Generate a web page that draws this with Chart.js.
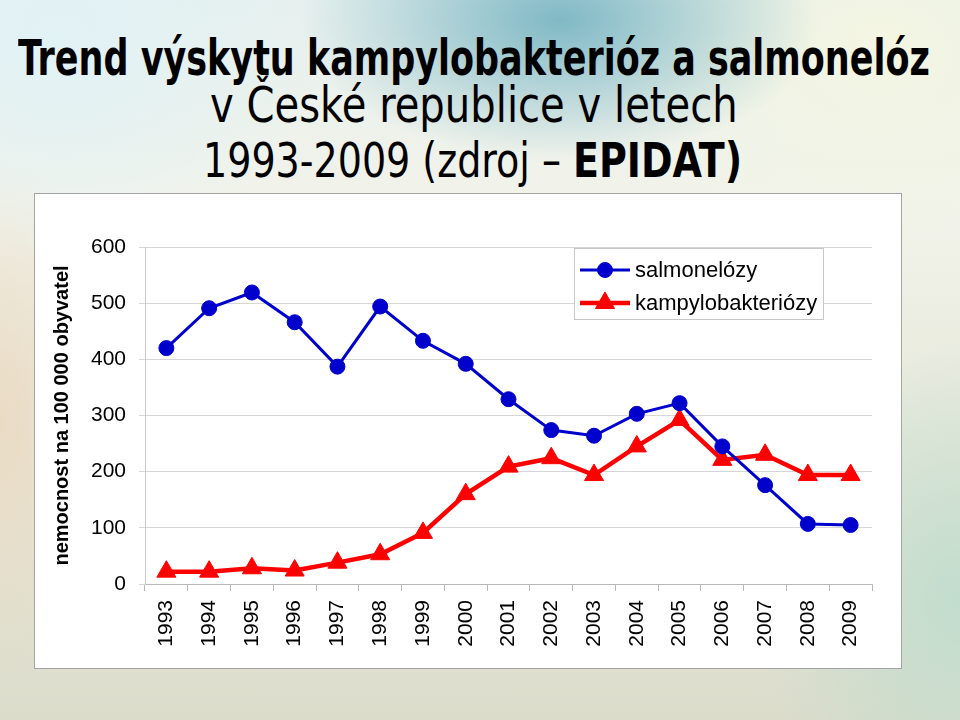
<!DOCTYPE html>
<html>
<head>
<meta charset="utf-8">
<script src="https://cdn.jsdelivr.net/npm/chart.js@4/dist/chart.umd.min.js"></script>
<style>
  html, body { margin:0; padding:0; }
  body {
    width:960px; height:720px; overflow:hidden; position:relative;
    background:
      radial-gradient(ellipse 260px 140px at 560px 20px, rgba(110,175,190,0.85), rgba(110,175,190,0) 100%),
      radial-gradient(ellipse 300px 200px at 880px 40px, rgba(245,246,225,0.95), rgba(245,246,225,0) 100%),
      radial-gradient(ellipse 260px 220px at 60px 40px, rgba(225,242,245,1), rgba(225,242,245,0) 100%),
      radial-gradient(ellipse 120px 260px at 0px 420px, rgba(235,215,190,0.8), rgba(235,215,190,0) 100%),
      radial-gradient(ellipse 200px 260px at 960px 600px, rgba(190,220,205,0.9), rgba(190,220,205,0) 100%),
      linear-gradient(to bottom, #e6f0ee 0px, #f2f3ea 200px, #e6e8da 450px, #dcdccb 720px);
  }
  .t { position:absolute; white-space:nowrap; color:#000; font-family:"DejaVu Sans Condensed","DejaVu Sans",sans-serif; transform-origin:0 0; line-height:1; }
  #box { position:absolute; left:34px; top:193px; width:868px; height:476px; box-sizing:border-box; border:1px solid #a4a4a4; background:#fff; }
  #c { position:absolute; left:34px; top:193px; }
</style>
</head>
<body>
<div class="t" id="t1" style="font-size:50px;font-weight:bold;">Trend výskytu kampylobakterióz a salmonelóz</div>
<div class="t" id="t2" style="font-size:50px;">v České republice v letech</div>
<div class="t" id="t3" style="font-size:48px;">1993-2009 (zdroj – <b>EPIDAT)</b></div>
<div id="box"></div>
<canvas id="c" width="868" height="476"></canvas>
<script>
// ---- data ----
const years = ['1993','1994','1995','1996','1997','1998','1999','2000','2001','2002','2003','2004','2005','2006','2007','2008','2009'];
const salmonelozy = [420, 491, 519, 466, 387, 494, 433, 392, 329, 274, 264, 303, 322, 245, 176, 107, 105];
const kampylobakteriozy = [22, 22, 28, 24, 38, 53, 91, 160, 209, 224, 194, 245, 292, 221, 230, 194, 194];
const seriesNames = ['salmonelózy', 'kampylobakteriózy'];
const yTicks = [0, 100, 200, 300, 400, 500, 600];
const yTitle = 'nemocnost na 100 000 obyvatel';

// ---- title fitting ----
function fit(id, left, width, baseline, fs) {
  const el = document.getElementById(id);
  const w = el.scrollWidth;
  el.style.left = left + 'px';
  el.style.top = (baseline - fs * 0.846) + 'px';
  el.style.transform = 'scaleX(' + (width / w) + ')';
}
fit('t1', 18, 912, 75, 50);
fit('t2', 210, 528, 122, 50);
fit('t3', 203, 539, 177, 48);

// ---- legend plugin ----
function drawMarker(ctx, style, r, x, y, color) {
  ctx.fillStyle = color; ctx.strokeStyle = color; ctx.lineWidth = 1;
  ctx.beginPath();
  if (style === 'circle') {
    ctx.arc(x, y, r, 0, Math.PI * 2);
  } else {
    const a = 2 * Math.PI / 3;
    ctx.moveTo(x, y - r);
    ctx.lineTo(x + Math.sin(a) * r, y - Math.cos(a) * r);
    ctx.lineTo(x + Math.sin(2*a) * r, y - Math.cos(2*a) * r);
    ctx.closePath();
  }
  ctx.fill(); ctx.stroke();
}
const boxLegend = {
  id: 'boxLegend',
  afterDraw(chart) {
    const ctx = chart.ctx;
    const bx = 540, by = 55, bw = 249, bh = 71;
    ctx.save();
    ctx.fillStyle = '#ffffff';
    ctx.fillRect(bx, by, bw, bh);
    ctx.strokeStyle = '#c8c8c8';
    ctx.lineWidth = 1;
    ctx.strokeRect(bx + 0.5, by + 0.5, bw, bh);
    const rows = [77, 110];
    chart.data.datasets.forEach((ds, i) => {
      const y = rows[i];
      ctx.strokeStyle = ds.borderColor;
      ctx.lineWidth = ds.borderWidth;
      ctx.beginPath(); ctx.moveTo(546, y); ctx.lineTo(596, y); ctx.stroke();
      drawMarker(ctx, ds.pointStyle, ds.pointRadius, 571, y, ds.borderColor);
      ctx.fillStyle = '#000';
      ctx.font = '22px "Liberation Sans", Arial, sans-serif';
      ctx.textBaseline = 'middle';
      ctx.textAlign = 'left';
      ctx.fillText(ds.label, 601, y + 1);
    });
    ctx.restore();
  }
};

new Chart(document.getElementById('c'), {
  type: 'line',
  data: {
    labels: years,
    datasets: [
      { label: seriesNames[0], data: salmonelozy, borderColor: '#0000CC', backgroundColor: '#0000CC',
        borderWidth: 3, pointStyle: 'circle', pointRadius: 7.5, pointBorderWidth: 1, tension: 0 },
      { label: seriesNames[1], data: kampylobakteriozy, borderColor: '#FF0000', backgroundColor: '#FF0000',
        borderWidth: 4.5, pointStyle: 'triangle', pointRadius: 11, pointBorderWidth: 1, tension: 0 }
    ]
  },
  options: {
    responsive: false,
    animation: false,
    layout: { padding: { top: 54, right: 30, left: 0, bottom: 0 } },
    plugins: { legend: { display: false }, tooltip: { enabled: false }, title: { display: false } },
    scales: {
      x: {
        offset: true,
        grid: { display: true, drawOnChartArea: false, offset: true, tickLength: 7, color: '#b8b8b8' },
        border: { color: '#b8b8b8' },
        ticks: { maxRotation: 90, minRotation: 90, padding: 9, color: '#000',
                 font: { family: '"Liberation Sans", Arial, sans-serif', size: 21 } },
        afterFit(s) { s.height = 85; }
      },
      y: {
        min: 0, max: 600,
        afterBuildTicks(s) { s.ticks = yTicks.map(v => ({ value: v })); },
        grid: { color: '#d6d6d6', tickLength: 6 },
        border: { color: '#c8c8c8' },
        ticks: { padding: 13, color: '#000',
                 font: { family: '"Liberation Sans", Arial, sans-serif', size: 21 } },
        title: { display: true, text: yTitle, color: '#000', padding: { top: 16, bottom: 0 },
                 font: { family: '"Liberation Sans", Arial, sans-serif', size: 20, weight: 'bold' } },
        afterFit(s) { s.width = 111; }
      }
    }
  },
  plugins: [boxLegend]
});
</script>
</body>
</html>
